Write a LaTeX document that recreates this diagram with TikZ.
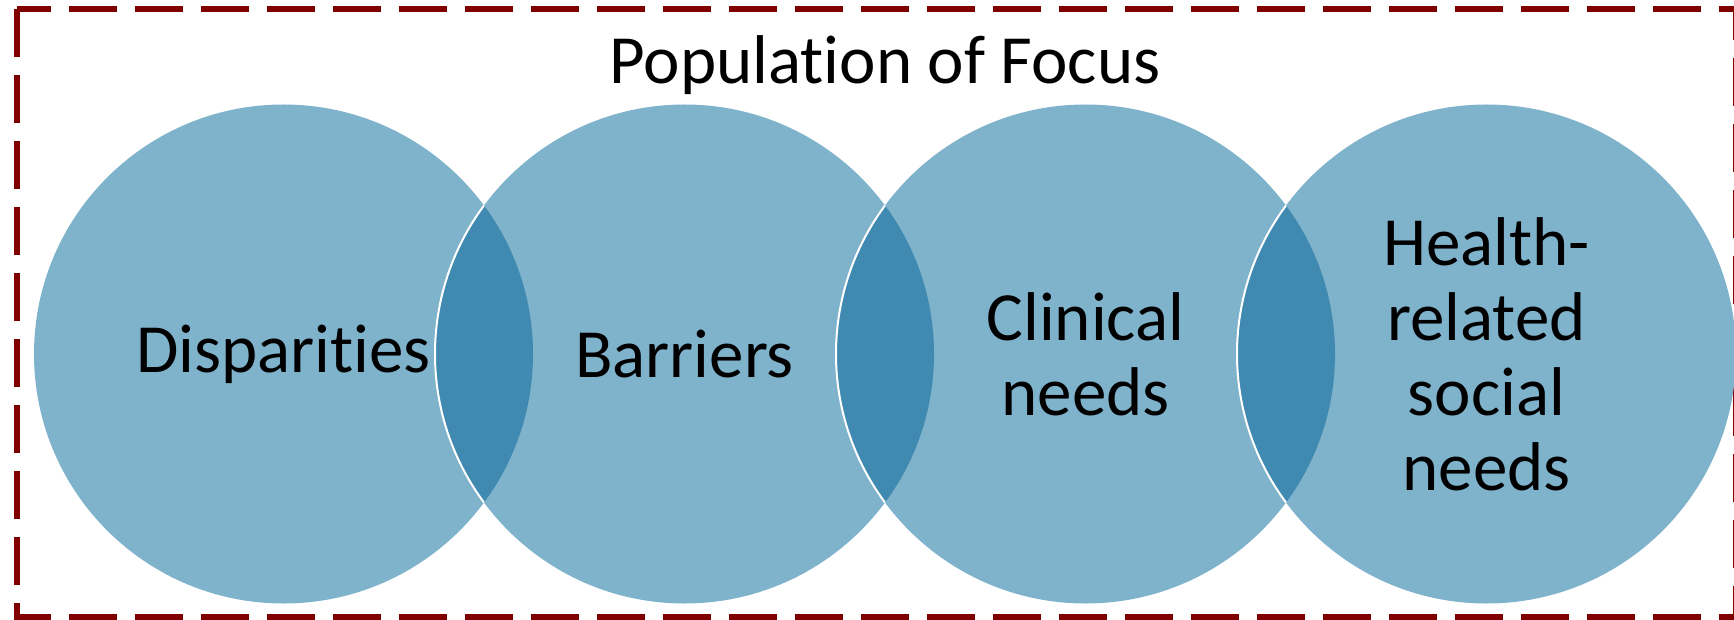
\documentclass[tikz,border=0pt]{standalone}
\usepackage{fontspec}
\setmainfont[Ligatures=NoCommon]{Carlito}
\usepackage{xcolor}
\usepackage{tikz}
\usetikzlibrary{positioning}
\definecolor{bubblefill}{RGB}{127,178,203}
\definecolor{lensfill}{RGB}{64,138,177}
\definecolor{borderred}{RGB}{128,0,0}

\begin{document}
\begin{tikzpicture}[x=1pt, y=-1pt, node distance=401pt,
    bubble/.style={circle, fill=bubblefill, minimum size=499pt, inner sep=0pt},
    lens/.style={fill=lensfill, draw=white, line width=2pt},
    caption/.style={font=\fontsize{69}{75}\selectfont, align=center, inner sep=0pt}]
        \useasboundingbox (0,0) rectangle (1734,620);
        \draw[borderred, line width=6pt, dash pattern=on 48pt off 18pt] (17,9) rectangle (1736,617);
        \node[bubble] (A) at (283.5,354) {};
        \node[bubble] (B) [right of=A] {};
        \node[bubble] (C) [right of=B] {};
        \node[bubble] (D) [right of=C] {};
        % overlaps
        \foreach \a/\b in {A/B, B/C, C/D} {
            \begin{scope}
                \clip (\a.center) circle (249.5pt);
                \path[lens] (\b.center) circle (249.5pt);
            \end{scope}
        }
        \node[caption] (disp) at (A) {Disparities};
        \node[caption] (barr) at (B) {Barriers};
        \node[caption] (clin) at (C) {Clinical\\needs};
        \node[caption] (hrsn) at (D) {Health-\\related\\social\\needs};
        \node[caption, anchor=base] (title) at (885,84) {Population of Focus};
\end{tikzpicture}
\end{document}
